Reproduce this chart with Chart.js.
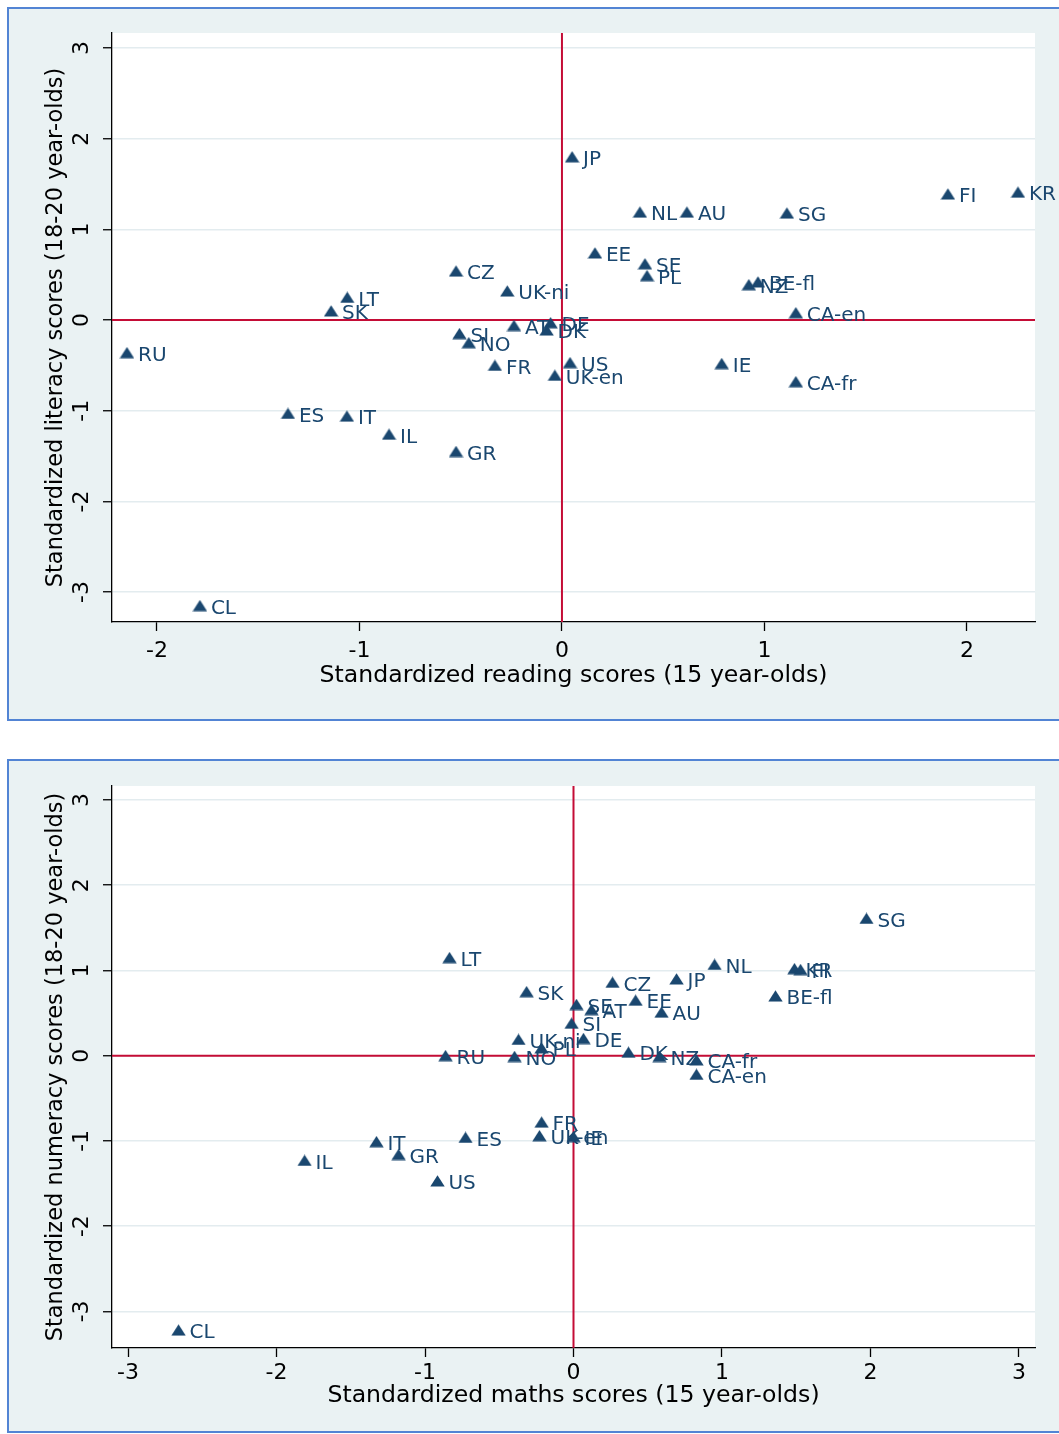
<!DOCTYPE html>
<html><head><meta charset="utf-8">
<script src="https://cdn.jsdelivr.net/npm/chart.js@4"></script>
<style>
body{margin:0;width:1059px;height:1434px;background:#fff;position:relative;overflow:hidden}
.panel{position:absolute;left:7px;width:1080px;background:#eaf2f3;border:2px solid #5284d4;box-sizing:border-box}
#p1{top:7px;height:714px}
#p2{top:759px;height:674px}
canvas{position:absolute;left:0}
#c1{top:0}
#c2{top:740px}
</style></head>
<body>
<div class="panel" id="p1"></div>
<div class="panel" id="p2"></div>
<canvas id="c1" width="1059" height="720"></canvas>
<canvas id="c2" width="1059" height="694"></canvas>
<script>
// ---- Panel 1: reading (15) vs literacy (18-20)
const codes1 = ['JP','NL','AU','SG','FI','KR','EE','SE','PL','BE-fl','NZ','CA-en','IE','CA-fr','CZ','UK-ni','LT','SK','RU','AT','DE','DK','SI','NO','FR','US','UK-en','ES','IT','IL','GR','CL'];
const reading = [0.05,0.385,0.617,1.111,1.906,2.252,0.163,0.41,0.42,0.968,0.923,1.155,0.789,1.155,-0.523,-0.27,-1.06,-1.14,-2.148,-0.237,-0.056,-0.076,-0.506,-0.46,-0.331,0.04,-0.035,-1.353,-1.062,-0.854,-0.523,-1.788];
const literacy = [1.80,1.19,1.19,1.18,1.39,1.41,0.74,0.62,0.49,0.42,0.39,0.08,-0.48,-0.68,0.54,0.32,0.25,0.10,-0.36,-0.06,-0.03,-0.11,-0.15,-0.25,-0.50,-0.47,-0.61,-1.03,-1.06,-1.26,-1.45,-3.15];

// ---- Panel 2: maths (15) vs numeracy (18-20)
const codes2 = ['SG','LT','NL','KR','FI','JP','CZ','SK','BE-fl','EE','SE','AT','AU','SI','DE','UK-ni','PL','RU','NO','DK','NZ','CA-fr','CA-en','FR','UK-en','IE','IT','ES','GR','IL','US','CL'];
const maths = [1.973,-0.835,0.95,1.488,1.529,0.694,0.263,-0.316,1.36,0.418,0.02,0.121,0.593,-0.013,0.067,-0.37,-0.215,-0.862,-0.397,0.37,0.579,0.828,0.828,-0.215,-0.229,0.0,-1.327,-0.727,-1.178,-1.811,-0.916,-2.66];
const numeracy = [1.61,1.15,1.07,1.02,1.01,0.90,0.86,0.75,0.70,0.65,0.60,0.54,0.51,0.38,0.20,0.19,0.09,0.0,-0.01,0.04,-0.01,-0.05,-0.22,-0.78,-0.94,-0.95,-1.01,-0.96,-1.16,-1.23,-1.47,-3.22];

const xTitle1 = 'Standardized reading scores (15 year-olds)';
const yTitle1 = 'Standardized literacy scores (18-20 year-olds)';
const xTitle2 = 'Standardized maths scores (15 year-olds)';
const yTitle2 = 'Standardized numeracy scores (18-20 year-olds)';

const NAVY = '#1a476f';
const RED = '#c40c36';
const FONT = "'DejaVu Sans', sans-serif";

// flat triangle marker
const tri = document.createElement('canvas');
tri.width = 15; tri.height = 12;
(function(){
  const g = tri.getContext('2d');
  g.fillStyle = NAVY;
  g.beginPath(); g.moveTo(7.5,0.3); g.lineTo(14.7,11.5); g.lineTo(0.3,11.5); g.closePath(); g.fill();
})();

const bgPlugin = {
  id:'bg',
  beforeDraw(chart){
    const {ctx, chartArea:a} = chart;
    ctx.save(); ctx.fillStyle='#fff'; ctx.fillRect(a.left,a.top,a.right-a.left,a.bottom-a.top); ctx.restore();
  }
};
const refPlugin = {
  id:'ref',
  beforeDatasetsDraw(chart){
    const {ctx, chartArea:a, scales:{x,y}} = chart;
    const px = x.getPixelForValue(0), py = y.getPixelForValue(0);
    ctx.save(); ctx.strokeStyle=RED; ctx.lineWidth=2;
    ctx.beginPath(); ctx.moveTo(px,a.top); ctx.lineTo(px,a.bottom); ctx.stroke();
    ctx.beginPath(); ctx.moveTo(a.left,py); ctx.lineTo(a.right,py); ctx.stroke();
    ctx.restore();
  }
};
const labelPlugin = {
  id:'lbl',
  afterDatasetsDraw(chart){
    const {ctx} = chart;
    const meta = chart.getDatasetMeta(0);
    const labels = chart.data.datasets[0].codes;
    ctx.save();
    ctx.fillStyle = NAVY;
    ctx.font = "20px " + FONT;
    ctx.textBaseline = 'middle';
    ctx.textAlign = 'left';
    meta.data.forEach((pt,i)=>{
      ctx.fillText(labels[i], pt.x + 11, pt.y + 3);
    });
    ctx.restore();
  }
};

function makeChart(id, codes, xs, ys, xr, yr, xt, yt, geo){
  const pts = xs.map((v,i)=>({x:v, y:ys[i]}));
  return new Chart(document.getElementById(id), {
    type:'scatter',
    data:{datasets:[{data:pts, codes:codes, pointStyle:tri, pointRadius:7, pointHoverRadius:7}]},
    options:{
      responsive:false, animation:false, devicePixelRatio:1,
      layout:{padding:{top:geo.top,left:0,right:24,bottom:0}},
      plugins:{legend:{display:false}, tooltip:{enabled:false}},
      events:[],
      scales:{
        x:{
          type:'linear', min:xr[0], max:xr[1],
          afterFit(s){ s.height = geo.xh; },
          ticks:{stepSize:1, includeBounds:false, color:'#000', font:{family:FONT,size:22}, padding:geo.xpad, maxRotation:0,
                 callback:v=>String(v)},
          grid:{drawOnChartArea:false, drawTicks:true, tickLength:9, tickColor:'#000', tickWidth:1.3},
          border:{display:true, color:'#000', width:1.3},
          title:{display:true, text:xt, color:'#000', font:{family:FONT,size:23.6}, padding:{top:0,bottom:geo.xtp}}
        },
        y:{
          type:'linear', min:yr[0], max:yr[1],
          afterFit(s){ s.width = 112; },
          ticks:{stepSize:1, includeBounds:false, color:'#000', font:{family:FONT,size:22}, padding:10,
                 minRotation:90, maxRotation:90, crossAlign:'center', callback:v=>String(v)},
          grid:{color:'#e3ecef', lineWidth:1.5, drawTicks:true, tickLength:9, tickColor:'#000', tickWidth:1.3},
          border:{display:true, color:'#000', width:1.3},
          title:{display:true, text:yt, color:'#000', font:{family:FONT,size:22.5}, padding:{top:42.5,bottom:0}}
        }
      }
    },
    plugins:[bgPlugin, refPlugin, labelPlugin]
  });
}

makeChart('c1', codes1, reading, literacy, [-2.222,2.336], [-3.33,3.166], xTitle1, yTitle1,
  {top:33, xh:98, xpad:7, xtp:29.5});
makeChart('c2', codes2, maths, numeracy, [-3.108,3.108], [-3.43,3.164], xTitle2, yTitle2,
  {top:46, xh:86, xpad:3, xtp:24});
</script>
</body></html>
